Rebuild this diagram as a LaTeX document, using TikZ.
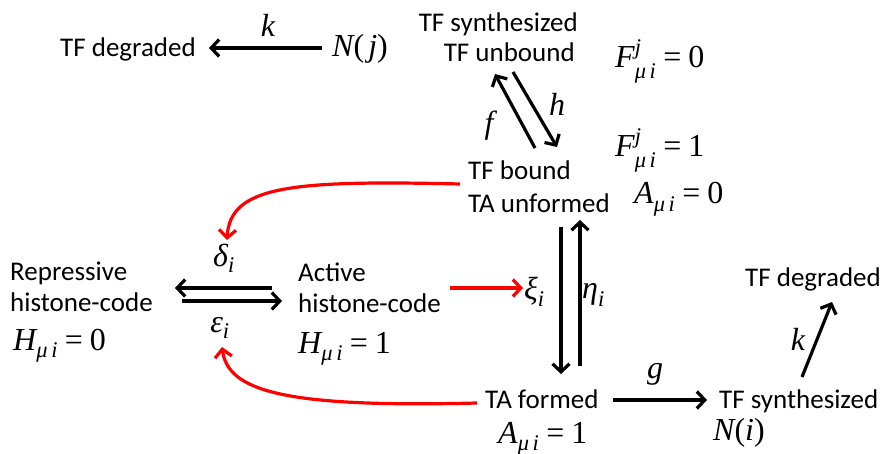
\documentclass[tikz,border=0pt]{standalone}
\usepackage{fontspec}
\usepackage{amsmath}
\setmainfont{Carlito}
\newfontfamily\tms{Liberation Serif}
\usetikzlibrary{arrows.meta}
\newcommand\mvar[1]{\text{\tms\itshape #1}}
\newcommand\mrm[1]{\text{\tms #1}}
\newcommand\lowsub[1]{_{\raisebox{-4pt}{$\scriptstyle #1$}}}
\begin{document}
\begin{tikzpicture}[x=1pt,y=-1pt,
  txt/.style={inner sep=0pt, font=\fontsize{27}{32}\selectfont, anchor=base west},
  mth/.style={inner sep=0pt, font=\fontsize{32}{38}\selectfont, anchor=base west},
  lbl/.style={inner sep=0pt, font=\fontsize{32}{38}\selectfont},
  arr/.style={line width=3.2pt, -{Straight Barb[length=8pt,width=17pt]}},
  rarr/.style={arr, red}]
\useasboundingbox (0,0) rectangle (883,454);

% top left
\node[txt] (tfdegL) at (60,57) {TF degraded};
\node[mth] (Nj) at (332,57) {$\mvar{N}\mrm{(}\,\mvar{j}\mrm{)}$};
\node[lbl, anchor=base] (kT) at (268,37) {$\mvar{k}$};

% top middle
\node[txt, anchor=base east] (syn1) at (578,32) {TF synthesized};
\node[txt, anchor=base east] (syn2) at (575,62) {TF unbound};
\node[mth] (F0) at (615,68) {$\mvar{F}^{\mvar{j}}_{\mvar{μ\,i}}\mathrel{\mrm{=}}\mrm{0}$};
\node[mth] (F1) at (615,157) {$\mvar{F}^{\mvar{j}}_{\mvar{μ\,i}}\mathrel{\mrm{=}}\mrm{1}$};
\node[mth] (A0) at (634,204) {$\mvar{A}\lowsub{\mvar{μ\,i}}\mathrel{\mrm{=}}\mrm{0}$};
\node[lbl] (fl) at (489,126) {$\mvar{f}$};
\node[lbl] (hl) at (557,104) {$\mvar{h}$};

\node[txt] (tfb1) at (468,180) {TF bound};
\node[txt] (tfb2) at (468,213) {TA unformed};

% left
\node[txt] (rep1) at (10,280) {Repressive};
\node[txt] (rep2) at (10,311) {histone-code};
\node[mth] (H0) at (13,350) {$\mvar{H}\lowsub{\mvar{μ\,i}}\mathrel{\mrm{=}}\mrm{0}$};
\node[txt] (act1) at (298,281) {Active};
\node[txt] (act2) at (298,312) {histone-code};
\node[mth] (H1) at (298,353) {$\mvar{H}\lowsub{\mvar{μ\,i}}\mathrel{\mrm{=}}\mrm{1}$};
\node[lbl] (dl) at (224,258) {$\mvar{δ}_{\mvar{i}}$};
\node[lbl] (el) at (220,328) {$\mvar{ε}_{\mvar{i}}$};
\node[lbl, anchor=west] (xl) at (524,292) {$\mvar{ξ}_{\mvar{i}}$};
\node[lbl, anchor=west] (etl) at (582,295) {$\mvar{η}_{\mvar{i}}$};

% bottom
\node[txt] (taf) at (485,408) {TA formed};
\node[mth] (A1) at (498,443) {$\mvar{A}\lowsub{\mvar{μ\,i}}\mathrel{\mrm{=}}\mrm{1}$};
\node[lbl, anchor=base] (gl) at (655,378) {$\mvar{g}$};
\node[txt] (tfsyn) at (719,408) {TF synthesized};
\node[mth] (Ni) at (713,440) {$\mvar{N}\mrm{(}\mvar{i}\mrm{)}$};
\node[txt] (tfdegR) at (745,287) {TF degraded};
\node[lbl, anchor=base] (kR) at (798,350) {$\mvar{k}$};

% arrow end points
\coordinate (kTs) at (322,48);  \coordinate (kTe) at (209,48);
\coordinate (hs) at (513,72);   \coordinate (he) at (557,147);
\coordinate (fs) at (535,148);  \coordinate (fe) at (495,74);
\coordinate (ds) at (460,184);  \coordinate (de) at (227,240);
\coordinate (u1s) at (272,288); \coordinate (u1e) at (175,288);
\coordinate (u2s) at (182,301); \coordinate (u2e) at (282,301);
\coordinate (es) at (477,403);  \coordinate (ee) at (222,347);
\coordinate (xs) at (450,288);  \coordinate (xe) at (523,288);
\coordinate (dns) at (561,227); \coordinate (dne) at (561,374);
\coordinate (ups) at (580,366); \coordinate (upe) at (580,220);
\coordinate (gs) at (613,400);  \coordinate (ge) at (707,400);
\coordinate (krs) at (802,377); \coordinate (kre) at (832,302);

\draw[arr] (kTs) -- (kTe);
\draw[arr] (hs) -- (he);
\draw[arr] (fs) -- (fe);
\draw[rarr] (ds) .. controls (290,180) and (230,186) .. (de);
\draw[arr] (u1s) -- (u1e);
\draw[arr] (u2s) -- (u2e);
\draw[rarr] (es) .. controls (280,408) and (228,390) .. (ee);
\draw[rarr] (xs) -- (xe);
\draw[arr] (dns) -- (dne);
\draw[arr] (ups) -- (upe);
\draw[arr] (gs) -- (ge);
\draw[arr] (krs) -- (kre);
\end{tikzpicture}
\end{document}
